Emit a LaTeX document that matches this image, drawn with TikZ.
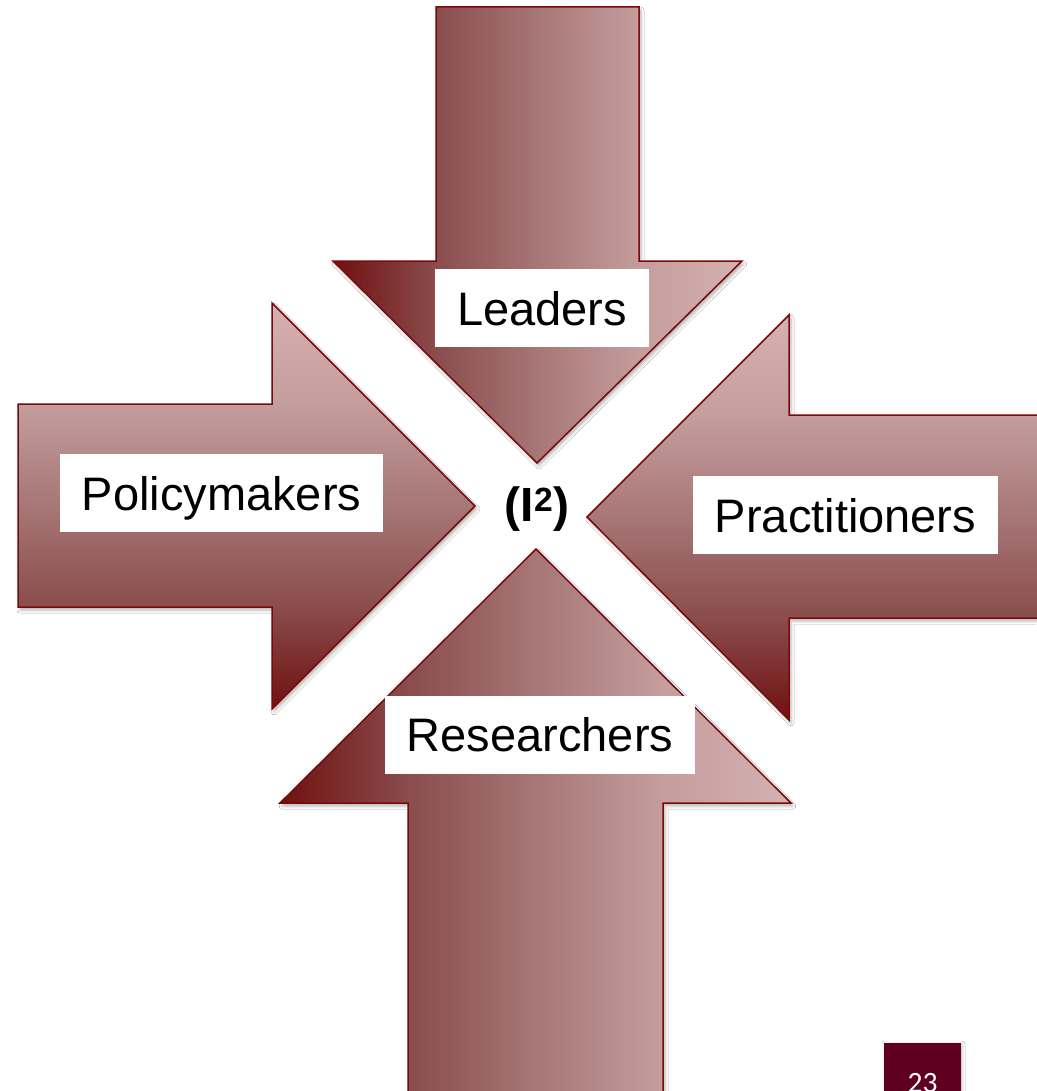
\documentclass[tikz,border=0pt]{standalone}
\usepackage{fontspec}
\usepackage{tikz}
\usetikzlibrary{shadows.blur}
\newfontfamily\arialfont{Liberation Sans}
\newfontfamily\calfont{Carlito}
\definecolor{arrdark}{HTML}{701010}
\definecolor{arrmidA}{HTML}{8A4C4C}
\definecolor{arrmidB}{HTML}{A77676}
\definecolor{arrmidC}{HTML}{C49D9D}
\definecolor{arrlight}{HTML}{D6B1B1}
\definecolor{arredge}{HTML}{7A0A0A}
\definecolor{pagecol}{HTML}{5F0021}
\pgfdeclarehorizontalshading{arrowfade}{100bp}{color(0bp)=(arrdark); color(25bp)=(arrdark);
  color(37.5bp)=(arrmidA); color(50bp)=(arrmidB); color(62.5bp)=(arrmidC);
  color(75bp)=(arrlight); color(100bp)=(arrlight)}

\begin{document}
\begin{tikzpicture}[x=1pt,y=-1pt,
   arrowbody/.style={draw=arredge,line width=1.5pt,line join=miter,shading=arrowfade,
              blur shadow={shadow xshift=2pt,shadow yshift=-3pt,shadow blur radius=3pt,shadow opacity=30}},
   across/.style={arrowbody,shading angle=0},
   updown/.style={arrowbody,shading angle=90},
   lbl/.style={fill=white,inner xsep=22pt,inner ysep=0pt,minimum height=78pt,
              text height=34pt,text depth=0pt,font=\arialfont\fontsize{47}{56}\selectfont},
   pgbox/.style={fill=pagecol,minimum width=77pt,minimum height=70pt,inner sep=0pt,
              blur shadow={shadow xshift=1pt,shadow yshift=-1pt,shadow blur radius=3pt,shadow opacity=25}},
]
\useasboundingbox[fill=white] (0,0) rectangle (1036,1091);

% arrows pointing to the centre
\path[across] (436,7) -- (639,7) -- (639,261) -- (742,261) -- (537,463)
   -- (333,261) -- (436,261) -- cycle;
\path[updown] (18,404) -- (272,404) -- (272,303) -- (475,506) -- (272,709)
   -- (272,607) -- (18,607) -- cycle;
\path[updown] (1070,415) -- (789,415) -- (789,315) -- (587,517) -- (789,720)
   -- (789,618) -- (1070,618) -- cycle;
\path[across] (408,1120) -- (408,803) -- (280,803) -- (536,549) -- (791,803)
   -- (663,803) -- (663,1120) -- cycle;

% labels
\node[lbl] (leaders)  at (542,308)   {Leaders};
\node[lbl] (policy)   at (221.5,493) {Policymakers};
\node[lbl] (practice) at (845.5,515) {Practitioners};
\node[lbl] (research) at (540,734.5) {Researchers};
\node[font=\arialfont\bfseries\fontsize{48}{56}\selectfont,inner sep=0pt,
      text height=34pt,text depth=0pt] (inter) at (537,504) {(I\textsuperscript{2})};

% page number
\node[pgbox,anchor=north] (pgbox) at (922.5,1043) {};
\node[text=white,font=\calfont\fontsize{29.5}{32}\selectfont,anchor=base,inner sep=0pt]
      (pgnum) at (922.5,1092) {23};
\end{tikzpicture}
\end{document}
